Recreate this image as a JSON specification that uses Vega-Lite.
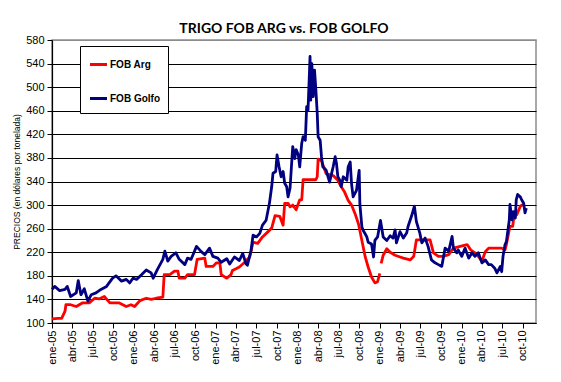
{
  "$schema": "https://vega.github.io/schema/vega-lite/v6.json",
  "autosize": {"type": "none"},
  "padding": {"left": 52, "top": 40, "right": 25, "bottom": 59},
  "width": 484,
  "height": 283,
  "background": "white",
  "title": {"text": "TRIGO FOB ARG vs. FOB GOLFO", "font": "Lato", "fontSize": 14, "fontWeight": "bold", "color": "#000", "anchor": "middle", "dx": -10, "dy": 4, "offset": 2},
  "data": {"values": [
    {"fecha": "2005-01-01", "serie": "FOB Arg", "precio": 107},
    {"fecha": "2005-01-28", "serie": "FOB Arg", "precio": 108},
    {"fecha": "2005-02-13", "serie": "FOB Arg", "precio": 108},
    {"fecha": "2005-02-28", "serie": "FOB Arg", "precio": 120},
    {"fecha": "2005-03-04", "serie": "FOB Arg", "precio": 131},
    {"fecha": "2005-03-25", "serie": "FOB Arg", "precio": 131},
    {"fecha": "2005-04-19", "serie": "FOB Arg", "precio": 128},
    {"fecha": "2005-05-16", "serie": "FOB Arg", "precio": 134},
    {"fecha": "2005-06-16", "serie": "FOB Arg", "precio": 134},
    {"fecha": "2005-07-10", "serie": "FOB Arg", "precio": 142},
    {"fecha": "2005-08-01", "serie": "FOB Arg", "precio": 141},
    {"fecha": "2005-08-22", "serie": "FOB Arg", "precio": 145},
    {"fecha": "2005-09-16", "serie": "FOB Arg", "precio": 134},
    {"fecha": "2005-10-07", "serie": "FOB Arg", "precio": 134},
    {"fecha": "2005-10-28", "serie": "FOB Arg", "precio": 134},
    {"fecha": "2005-11-28", "serie": "FOB Arg", "precio": 128},
    {"fecha": "2005-12-19", "serie": "FOB Arg", "precio": 131},
    {"fecha": "2006-01-04", "serie": "FOB Arg", "precio": 128},
    {"fecha": "2006-01-28", "serie": "FOB Arg", "precio": 138},
    {"fecha": "2006-02-25", "serie": "FOB Arg", "precio": 142},
    {"fecha": "2006-03-19", "serie": "FOB Arg", "precio": 140},
    {"fecha": "2006-04-10", "serie": "FOB Arg", "precio": 142},
    {"fecha": "2006-05-10", "serie": "FOB Arg", "precio": 144},
    {"fecha": "2006-05-16", "serie": "FOB Arg", "precio": 182},
    {"fecha": "2006-06-10", "serie": "FOB Arg", "precio": 182},
    {"fecha": "2006-07-01", "serie": "FOB Arg", "precio": 188},
    {"fecha": "2006-07-16", "serie": "FOB Arg", "precio": 188},
    {"fecha": "2006-07-22", "serie": "FOB Arg", "precio": 176},
    {"fecha": "2006-08-16", "serie": "FOB Arg", "precio": 176},
    {"fecha": "2006-08-28", "serie": "FOB Arg", "precio": 182},
    {"fecha": "2006-09-28", "serie": "FOB Arg", "precio": 182},
    {"fecha": "2006-10-10", "serie": "FOB Arg", "precio": 208},
    {"fecha": "2006-11-13", "serie": "FOB Arg", "precio": 210},
    {"fecha": "2006-11-19", "serie": "FOB Arg", "precio": 196},
    {"fecha": "2006-12-19", "serie": "FOB Arg", "precio": 196},
    {"fecha": "2007-01-04", "serie": "FOB Arg", "precio": 202},
    {"fecha": "2007-01-19", "serie": "FOB Arg", "precio": 202},
    {"fecha": "2007-01-25", "serie": "FOB Arg", "precio": 182},
    {"fecha": "2007-02-19", "serie": "FOB Arg", "precio": 176},
    {"fecha": "2007-03-10", "serie": "FOB Arg", "precio": 182},
    {"fecha": "2007-03-16", "serie": "FOB Arg", "precio": 189},
    {"fecha": "2007-04-01", "serie": "FOB Arg", "precio": 192},
    {"fecha": "2007-04-16", "serie": "FOB Arg", "precio": 195},
    {"fecha": "2007-05-10", "serie": "FOB Arg", "precio": 203},
    {"fecha": "2007-06-01", "serie": "FOB Arg", "precio": 212},
    {"fecha": "2007-06-16", "serie": "FOB Arg", "precio": 237},
    {"fecha": "2007-07-07", "serie": "FOB Arg", "precio": 235},
    {"fecha": "2007-07-28", "serie": "FOB Arg", "precio": 246},
    {"fecha": "2007-08-22", "serie": "FOB Arg", "precio": 255},
    {"fecha": "2007-09-07", "serie": "FOB Arg", "precio": 261},
    {"fecha": "2007-09-22", "serie": "FOB Arg", "precio": 282},
    {"fecha": "2007-10-13", "serie": "FOB Arg", "precio": 281},
    {"fecha": "2007-10-28", "serie": "FOB Arg", "precio": 266},
    {"fecha": "2007-11-04", "serie": "FOB Arg", "precio": 303},
    {"fecha": "2007-11-19", "serie": "FOB Arg", "precio": 303},
    {"fecha": "2007-11-28", "serie": "FOB Arg", "precio": 297},
    {"fecha": "2007-12-10", "serie": "FOB Arg", "precio": 300},
    {"fecha": "2007-12-25", "serie": "FOB Arg", "precio": 292},
    {"fecha": "2008-01-10", "serie": "FOB Arg", "precio": 309},
    {"fecha": "2008-01-19", "serie": "FOB Arg", "precio": 309},
    {"fecha": "2008-01-25", "serie": "FOB Arg", "precio": 343},
    {"fecha": "2008-03-22", "serie": "FOB Arg", "precio": 343},
    {"fecha": "2008-03-28", "serie": "FOB Arg", "precio": 348},
    {"fecha": "2008-04-01", "serie": "FOB Arg", "precio": 378},
    {"fecha": "2008-04-16", "serie": "FOB Arg", "precio": 375},
    {"fecha": "2008-05-07", "serie": "FOB Arg", "precio": 353},
    {"fecha": "2008-06-07", "serie": "FOB Arg", "precio": 350},
    {"fecha": "2008-06-28", "serie": "FOB Arg", "precio": 342},
    {"fecha": "2008-07-13", "serie": "FOB Arg", "precio": 331},
    {"fecha": "2008-07-28", "serie": "FOB Arg", "precio": 322},
    {"fecha": "2008-08-13", "serie": "FOB Arg", "precio": 308},
    {"fecha": "2008-08-28", "serie": "FOB Arg", "precio": 300},
    {"fecha": "2008-09-13", "serie": "FOB Arg", "precio": 285},
    {"fecha": "2008-09-28", "serie": "FOB Arg", "precio": 268},
    {"fecha": "2008-10-13", "serie": "FOB Arg", "precio": 240},
    {"fecha": "2008-10-28", "serie": "FOB Arg", "precio": 212},
    {"fecha": "2008-11-10", "serie": "FOB Arg", "precio": 195},
    {"fecha": "2008-11-25", "serie": "FOB Arg", "precio": 178},
    {"fecha": "2008-12-10", "serie": "FOB Arg", "precio": 168},
    {"fecha": "2008-12-22", "serie": "FOB Arg", "precio": 170},
    {"fecha": "2009-01-01", "serie": "FOB Arg", "precio": 184},
    {"fecha": "2009-01-04", "serie": "FOB Arg", "precio": null},
    {"fecha": "2009-01-07", "serie": "FOB Arg", "precio": 201},
    {"fecha": "2009-01-16", "serie": "FOB Arg", "precio": 215},
    {"fecha": "2009-02-01", "serie": "FOB Arg", "precio": 226},
    {"fecha": "2009-02-16", "serie": "FOB Arg", "precio": 220},
    {"fecha": "2009-03-10", "serie": "FOB Arg", "precio": 215},
    {"fecha": "2009-04-01", "serie": "FOB Arg", "precio": 212},
    {"fecha": "2009-04-16", "serie": "FOB Arg", "precio": 210},
    {"fecha": "2009-05-16", "serie": "FOB Arg", "precio": 207},
    {"fecha": "2009-06-01", "serie": "FOB Arg", "precio": 213},
    {"fecha": "2009-06-13", "serie": "FOB Arg", "precio": 241},
    {"fecha": "2009-08-13", "serie": "FOB Arg", "precio": 241},
    {"fecha": "2009-08-28", "serie": "FOB Arg", "precio": 219},
    {"fecha": "2009-09-19", "serie": "FOB Arg", "precio": 213},
    {"fecha": "2009-10-10", "serie": "FOB Arg", "precio": 213},
    {"fecha": "2009-11-04", "serie": "FOB Arg", "precio": 216},
    {"fecha": "2009-11-25", "serie": "FOB Arg", "precio": 227},
    {"fecha": "2009-12-25", "serie": "FOB Arg", "precio": 230},
    {"fecha": "2010-01-25", "serie": "FOB Arg", "precio": 233},
    {"fecha": "2010-02-10", "serie": "FOB Arg", "precio": 224},
    {"fecha": "2010-03-01", "serie": "FOB Arg", "precio": 219},
    {"fecha": "2010-03-16", "serie": "FOB Arg", "precio": 213},
    {"fecha": "2010-04-01", "serie": "FOB Arg", "precio": 205},
    {"fecha": "2010-04-16", "serie": "FOB Arg", "precio": 221},
    {"fecha": "2010-05-01", "serie": "FOB Arg", "precio": 227},
    {"fecha": "2010-05-28", "serie": "FOB Arg", "precio": 227},
    {"fecha": "2010-06-28", "serie": "FOB Arg", "precio": 227},
    {"fecha": "2010-07-13", "serie": "FOB Arg", "precio": 224},
    {"fecha": "2010-07-19", "serie": "FOB Arg", "precio": 233},
    {"fecha": "2010-08-04", "serie": "FOB Arg", "precio": 264},
    {"fecha": "2010-08-16", "serie": "FOB Arg", "precio": 264},
    {"fecha": "2010-08-22", "serie": "FOB Arg", "precio": 281},
    {"fecha": "2010-09-04", "serie": "FOB Arg", "precio": 284},
    {"fecha": "2010-09-19", "serie": "FOB Arg", "precio": 298},
    {"fecha": "2010-10-01", "serie": "FOB Arg", "precio": 301},
    {"fecha": "2005-01-01", "serie": "FOB Golfo", "precio": 157},
    {"fecha": "2005-01-13", "serie": "FOB Golfo", "precio": 162},
    {"fecha": "2005-02-04", "serie": "FOB Golfo", "precio": 155},
    {"fecha": "2005-02-28", "serie": "FOB Golfo", "precio": 157},
    {"fecha": "2005-03-10", "serie": "FOB Golfo", "precio": 162},
    {"fecha": "2005-03-25", "serie": "FOB Golfo", "precio": 145},
    {"fecha": "2005-04-19", "serie": "FOB Golfo", "precio": 151},
    {"fecha": "2005-04-28", "serie": "FOB Golfo", "precio": 172},
    {"fecha": "2005-05-10", "serie": "FOB Golfo", "precio": 148},
    {"fecha": "2005-05-25", "serie": "FOB Golfo", "precio": 158},
    {"fecha": "2005-06-10", "serie": "FOB Golfo", "precio": 137},
    {"fecha": "2005-06-25", "serie": "FOB Golfo", "precio": 148},
    {"fecha": "2005-07-16", "serie": "FOB Golfo", "precio": 151},
    {"fecha": "2005-08-07", "serie": "FOB Golfo", "precio": 157},
    {"fecha": "2005-09-01", "serie": "FOB Golfo", "precio": 162},
    {"fecha": "2005-09-28", "serie": "FOB Golfo", "precio": 176},
    {"fecha": "2005-10-13", "serie": "FOB Golfo", "precio": 180},
    {"fecha": "2005-11-07", "serie": "FOB Golfo", "precio": 171},
    {"fecha": "2005-11-28", "serie": "FOB Golfo", "precio": 174},
    {"fecha": "2005-12-13", "serie": "FOB Golfo", "precio": 168},
    {"fecha": "2005-12-28", "serie": "FOB Golfo", "precio": 176},
    {"fecha": "2006-01-13", "serie": "FOB Golfo", "precio": 174},
    {"fecha": "2006-02-04", "serie": "FOB Golfo", "precio": 182},
    {"fecha": "2006-02-25", "serie": "FOB Golfo", "precio": 190},
    {"fecha": "2006-03-19", "serie": "FOB Golfo", "precio": 185},
    {"fecha": "2006-03-28", "serie": "FOB Golfo", "precio": 176},
    {"fecha": "2006-04-16", "serie": "FOB Golfo", "precio": 191},
    {"fecha": "2006-05-10", "serie": "FOB Golfo", "precio": 208},
    {"fecha": "2006-05-19", "serie": "FOB Golfo", "precio": 222},
    {"fecha": "2006-06-01", "serie": "FOB Golfo", "precio": 205},
    {"fecha": "2006-06-16", "serie": "FOB Golfo", "precio": 213},
    {"fecha": "2006-07-07", "serie": "FOB Golfo", "precio": 219},
    {"fecha": "2006-07-22", "serie": "FOB Golfo", "precio": 208},
    {"fecha": "2006-08-16", "serie": "FOB Golfo", "precio": 199},
    {"fecha": "2006-08-28", "serie": "FOB Golfo", "precio": 210},
    {"fecha": "2006-09-13", "serie": "FOB Golfo", "precio": 208},
    {"fecha": "2006-10-07", "serie": "FOB Golfo", "precio": 230},
    {"fecha": "2006-10-28", "serie": "FOB Golfo", "precio": 221},
    {"fecha": "2006-11-13", "serie": "FOB Golfo", "precio": 216},
    {"fecha": "2006-12-04", "serie": "FOB Golfo", "precio": 227},
    {"fecha": "2006-12-19", "serie": "FOB Golfo", "precio": 213},
    {"fecha": "2007-01-10", "serie": "FOB Golfo", "precio": 210},
    {"fecha": "2007-01-25", "serie": "FOB Golfo", "precio": 203},
    {"fecha": "2007-02-19", "serie": "FOB Golfo", "precio": 209},
    {"fecha": "2007-03-04", "serie": "FOB Golfo", "precio": 200},
    {"fecha": "2007-03-25", "serie": "FOB Golfo", "precio": 212},
    {"fecha": "2007-04-16", "serie": "FOB Golfo", "precio": 206},
    {"fecha": "2007-05-01", "serie": "FOB Golfo", "precio": 218},
    {"fecha": "2007-05-16", "serie": "FOB Golfo", "precio": 200},
    {"fecha": "2007-05-22", "serie": "FOB Golfo", "precio": 198},
    {"fecha": "2007-06-07", "serie": "FOB Golfo", "precio": 223},
    {"fecha": "2007-06-16", "serie": "FOB Golfo", "precio": 249},
    {"fecha": "2007-07-01", "serie": "FOB Golfo", "precio": 246},
    {"fecha": "2007-07-16", "serie": "FOB Golfo", "precio": 252},
    {"fecha": "2007-07-28", "serie": "FOB Golfo", "precio": 266},
    {"fecha": "2007-08-13", "serie": "FOB Golfo", "precio": 274},
    {"fecha": "2007-08-28", "serie": "FOB Golfo", "precio": 303},
    {"fecha": "2007-09-07", "serie": "FOB Golfo", "precio": 331},
    {"fecha": "2007-09-13", "serie": "FOB Golfo", "precio": 354},
    {"fecha": "2007-09-25", "serie": "FOB Golfo", "precio": 357},
    {"fecha": "2007-10-01", "serie": "FOB Golfo", "precio": 385},
    {"fecha": "2007-10-10", "serie": "FOB Golfo", "precio": 365},
    {"fecha": "2007-10-19", "serie": "FOB Golfo", "precio": 348},
    {"fecha": "2007-10-28", "serie": "FOB Golfo", "precio": 357},
    {"fecha": "2007-11-04", "serie": "FOB Golfo", "precio": 337},
    {"fecha": "2007-11-13", "serie": "FOB Golfo", "precio": 331},
    {"fecha": "2007-11-19", "serie": "FOB Golfo", "precio": 314},
    {"fecha": "2007-11-28", "serie": "FOB Golfo", "precio": 329},
    {"fecha": "2007-12-04", "serie": "FOB Golfo", "precio": 365},
    {"fecha": "2007-12-10", "serie": "FOB Golfo", "precio": 399},
    {"fecha": "2007-12-19", "serie": "FOB Golfo", "precio": 379},
    {"fecha": "2007-12-25", "serie": "FOB Golfo", "precio": 394},
    {"fecha": "2008-01-04", "serie": "FOB Golfo", "precio": 385},
    {"fecha": "2008-01-10", "serie": "FOB Golfo", "precio": 365},
    {"fecha": "2008-01-19", "serie": "FOB Golfo", "precio": 405},
    {"fecha": "2008-01-25", "serie": "FOB Golfo", "precio": 416},
    {"fecha": "2008-02-04", "serie": "FOB Golfo", "precio": 410},
    {"fecha": "2008-02-10", "serie": "FOB Golfo", "precio": 467},
    {"fecha": "2008-02-16", "serie": "FOB Golfo", "precio": 461},
    {"fecha": "2008-02-25", "serie": "FOB Golfo", "precio": 552},
    {"fecha": "2008-02-28", "serie": "FOB Golfo", "precio": 478},
    {"fecha": "2008-03-04", "serie": "FOB Golfo", "precio": 540},
    {"fecha": "2008-03-10", "serie": "FOB Golfo", "precio": 484},
    {"fecha": "2008-03-16", "serie": "FOB Golfo", "precio": 529},
    {"fecha": "2008-03-22", "serie": "FOB Golfo", "precio": 495},
    {"fecha": "2008-03-28", "serie": "FOB Golfo", "precio": 456},
    {"fecha": "2008-04-01", "serie": "FOB Golfo", "precio": 416},
    {"fecha": "2008-04-10", "serie": "FOB Golfo", "precio": 410},
    {"fecha": "2008-04-16", "serie": "FOB Golfo", "precio": 382},
    {"fecha": "2008-04-22", "serie": "FOB Golfo", "precio": 365},
    {"fecha": "2008-05-07", "serie": "FOB Golfo", "precio": 359},
    {"fecha": "2008-05-22", "serie": "FOB Golfo", "precio": 339},
    {"fecha": "2008-06-07", "serie": "FOB Golfo", "precio": 365},
    {"fecha": "2008-06-16", "serie": "FOB Golfo", "precio": 382},
    {"fecha": "2008-06-22", "serie": "FOB Golfo", "precio": 370},
    {"fecha": "2008-06-28", "serie": "FOB Golfo", "precio": 348},
    {"fecha": "2008-07-07", "serie": "FOB Golfo", "precio": 342},
    {"fecha": "2008-07-13", "serie": "FOB Golfo", "precio": 331},
    {"fecha": "2008-07-22", "serie": "FOB Golfo", "precio": 348},
    {"fecha": "2008-08-07", "serie": "FOB Golfo", "precio": 342},
    {"fecha": "2008-08-13", "serie": "FOB Golfo", "precio": 365},
    {"fecha": "2008-08-22", "serie": "FOB Golfo", "precio": 373},
    {"fecha": "2008-08-28", "serie": "FOB Golfo", "precio": 336},
    {"fecha": "2008-09-04", "serie": "FOB Golfo", "precio": 314},
    {"fecha": "2008-09-19", "serie": "FOB Golfo", "precio": 325},
    {"fecha": "2008-10-01", "serie": "FOB Golfo", "precio": 359},
    {"fecha": "2008-10-04", "serie": "FOB Golfo", "precio": 302},
    {"fecha": "2008-10-13", "serie": "FOB Golfo", "precio": 263},
    {"fecha": "2008-10-19", "serie": "FOB Golfo", "precio": 257},
    {"fecha": "2008-10-28", "serie": "FOB Golfo", "precio": 251},
    {"fecha": "2008-11-04", "serie": "FOB Golfo", "precio": 246},
    {"fecha": "2008-11-10", "serie": "FOB Golfo", "precio": 237},
    {"fecha": "2008-11-25", "serie": "FOB Golfo", "precio": 234},
    {"fecha": "2008-12-04", "serie": "FOB Golfo", "precio": 212},
    {"fecha": "2008-12-10", "serie": "FOB Golfo", "precio": 240},
    {"fecha": "2008-12-22", "serie": "FOB Golfo", "precio": 246},
    {"fecha": "2009-01-04", "serie": "FOB Golfo", "precio": 274},
    {"fecha": "2009-01-16", "serie": "FOB Golfo", "precio": 246},
    {"fecha": "2009-02-01", "serie": "FOB Golfo", "precio": 240},
    {"fecha": "2009-02-16", "serie": "FOB Golfo", "precio": 248},
    {"fecha": "2009-03-01", "serie": "FOB Golfo", "precio": 244},
    {"fecha": "2009-03-10", "serie": "FOB Golfo", "precio": 258},
    {"fecha": "2009-03-16", "serie": "FOB Golfo", "precio": 236},
    {"fecha": "2009-04-01", "serie": "FOB Golfo", "precio": 255},
    {"fecha": "2009-04-16", "serie": "FOB Golfo", "precio": 244},
    {"fecha": "2009-05-01", "serie": "FOB Golfo", "precio": 253},
    {"fecha": "2009-05-07", "serie": "FOB Golfo", "precio": 264},
    {"fecha": "2009-05-22", "serie": "FOB Golfo", "precio": 281},
    {"fecha": "2009-06-04", "serie": "FOB Golfo", "precio": 298},
    {"fecha": "2009-06-13", "serie": "FOB Golfo", "precio": 272},
    {"fecha": "2009-06-28", "serie": "FOB Golfo", "precio": 253},
    {"fecha": "2009-07-07", "serie": "FOB Golfo", "precio": 236},
    {"fecha": "2009-07-22", "serie": "FOB Golfo", "precio": 244},
    {"fecha": "2009-08-04", "serie": "FOB Golfo", "precio": 230},
    {"fecha": "2009-08-19", "serie": "FOB Golfo", "precio": 207},
    {"fecha": "2009-09-04", "serie": "FOB Golfo", "precio": 202},
    {"fecha": "2009-09-19", "serie": "FOB Golfo", "precio": 199},
    {"fecha": "2009-10-04", "serie": "FOB Golfo", "precio": 196},
    {"fecha": "2009-10-19", "serie": "FOB Golfo", "precio": 227},
    {"fecha": "2009-11-04", "serie": "FOB Golfo", "precio": 222},
    {"fecha": "2009-11-19", "serie": "FOB Golfo", "precio": 247},
    {"fecha": "2009-11-25", "serie": "FOB Golfo", "precio": 227},
    {"fecha": "2009-12-10", "serie": "FOB Golfo", "precio": 219},
    {"fecha": "2009-12-16", "serie": "FOB Golfo", "precio": 224},
    {"fecha": "2010-01-01", "serie": "FOB Golfo", "precio": 213},
    {"fecha": "2010-01-16", "serie": "FOB Golfo", "precio": 227},
    {"fecha": "2010-02-01", "serie": "FOB Golfo", "precio": 210},
    {"fecha": "2010-02-16", "serie": "FOB Golfo", "precio": 219},
    {"fecha": "2010-03-01", "serie": "FOB Golfo", "precio": 213},
    {"fecha": "2010-03-16", "serie": "FOB Golfo", "precio": 219},
    {"fecha": "2010-04-01", "serie": "FOB Golfo", "precio": 202},
    {"fecha": "2010-04-16", "serie": "FOB Golfo", "precio": 207},
    {"fecha": "2010-05-01", "serie": "FOB Golfo", "precio": 199},
    {"fecha": "2010-05-13", "serie": "FOB Golfo", "precio": 199},
    {"fecha": "2010-05-28", "serie": "FOB Golfo", "precio": 193},
    {"fecha": "2010-06-07", "serie": "FOB Golfo", "precio": 185},
    {"fecha": "2010-06-22", "serie": "FOB Golfo", "precio": 196},
    {"fecha": "2010-06-28", "serie": "FOB Golfo", "precio": 187},
    {"fecha": "2010-07-04", "serie": "FOB Golfo", "precio": 213},
    {"fecha": "2010-07-13", "serie": "FOB Golfo", "precio": 233},
    {"fecha": "2010-07-19", "serie": "FOB Golfo", "precio": 238},
    {"fecha": "2010-08-01", "serie": "FOB Golfo", "precio": 275},
    {"fecha": "2010-08-04", "serie": "FOB Golfo", "precio": 301},
    {"fecha": "2010-08-13", "serie": "FOB Golfo", "precio": 275},
    {"fecha": "2010-08-19", "serie": "FOB Golfo", "precio": 289},
    {"fecha": "2010-08-28", "serie": "FOB Golfo", "precio": 278},
    {"fecha": "2010-09-01", "serie": "FOB Golfo", "precio": 309},
    {"fecha": "2010-09-07", "serie": "FOB Golfo", "precio": 318},
    {"fecha": "2010-09-19", "serie": "FOB Golfo", "precio": 314},
    {"fecha": "2010-09-25", "serie": "FOB Golfo", "precio": 309},
    {"fecha": "2010-10-04", "serie": "FOB Golfo", "precio": 303},
    {"fecha": "2010-10-10", "serie": "FOB Golfo", "precio": 287},
    {"fecha": "2010-10-16", "serie": "FOB Golfo", "precio": 295}
  ]},
  "mark": {"type": "line", "strokeWidth": 2.8, "strokeJoin": "round", "invalid": "break-paths-show-domains"},
  "encoding": {
    "x": {
      "field": "fecha", "type": "temporal",
      "scale": {"type": "utc", "nice": false, "domain": [{"year": 2005, "month": 1, "date": 1, "utc": true}, {"year": 2010, "month": 11, "date": 28, "utc": true}]},
      "axis": {
        "title": null, "grid": false, "labelAngle": -90, "labelOverlap": false,
        "tickCount": {"interval": "month", "step": 3},
        "labelExpr": "['ene','feb','mar','abr','may','jun','jul','ago','sep','oct','nov','dic'][utcmonth(datum.value)] + '-' + utcFormat(datum.value, '%y')",
        "tickSize": 5, "labelPadding": 2
      }
    },
    "y": {
      "field": "precio", "type": "quantitative",
      "scale": {"domain": [100, 580], "nice": false, "zero": false},
      "axis": {
        "title": "PRECIOS (en dólares por tonelada)",
        "values": [100, 140, 180, 220, 260, 300, 340, 380, 420, 460, 500, 540, 580],
        "gridColor": {"condition": {"test": "datum.value == 580", "value": "#8c8c8c"}, "value": "#000000"},
        "tickSize": 5, "labelPadding": 3,
        "titleFontSize": 8.5, "titleFontWeight": "normal", "titlePadding": 4
      }
    },
    "color": {
      "field": "serie", "type": "nominal",
      "scale": {"domain": ["FOB Arg", "FOB Golfo"], "range": ["#FF0000", "#000080"]},
      "legend": {"title": null}
    }
  },
  "config": {
    "font": "Liberation Sans",
    "view": {"stroke": "#8c8c8c", "strokeWidth": 1.5},
    "axis": {
      "labelFont": "Liberation Sans",
      "titleFont": "Liberation Sans",
      "labelFontSize": 11, "labelColor": "#000", "titleColor": "#000",
      "domainColor": "#000", "tickColor": "#000", "gridColor": "#000", "gridWidth": 1, "domainWidth": 1.2
    },
    "legend": {
      "orient": "none", "legendX": 28, "legendY": 6,
      "padding": 8, "fillColor": "white", "strokeColor": "#000", "strokeWidth": 1,
      "symbolType": "stroke", "symbolStrokeWidth": 3, "symbolSize": 290,
      "rowPadding": 17, "labelOffset": 1,
      "labelFont": "Liberation Sans",
      "labelFontSize": 10, "labelFontWeight": "bold", "labelColor": "#000"
    }
  }
}
